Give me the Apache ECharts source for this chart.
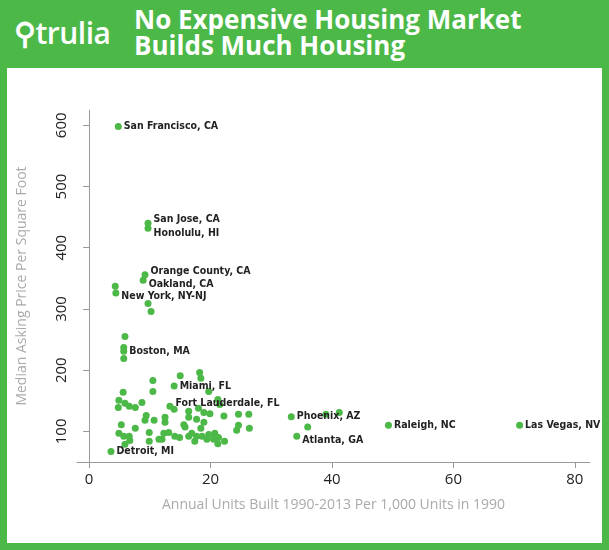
<!DOCTYPE html>
<html><head><meta charset="utf-8">
<script src="https://cdn.jsdelivr.net/npm/echarts@6/dist/echarts.min.js"></script>
<style>
body{margin:0;background:#4cb848;}
#wrap{position:absolute;left:0;top:0;width:609px;height:550px;background:#4cb848;}
#hdr{position:absolute;left:0;top:0;width:609px;height:68px;font-family:"Open Sans";color:#fff;}
#logo{position:absolute;left:14px;top:12px;font-size:30px;font-weight:600;letter-spacing:-0.5px;}
#title{position:absolute;left:134px;top:6px;font-size:26px;font-weight:700;line-height:26px;}
#chart{position:absolute;left:7px;top:68px;width:595px;height:475px;background:#fff;}
</style></head><body>
<div id="wrap">
<div id="hdr"><div id="logo">&#9906;trulia</div><div id="title">No Expensive Housing Market<br>Builds Much Housing</div></div>
<div id="chart"></div></div>
<script>
const xTicks=[0,20,40,60,80];
const yTicks=[100,200,300,400,500,600];
const labeled=[
["San Francisco, CA",4.8,598,0],["San Jose, CA",9.7,440,-4],["Honolulu, HI",9.7,432,5],
["Orange County, CA",9.2,356,-3],["Oakland, CA",8.9,347,4],["New York, NY-NJ",4.4,326,3],
["Boston, MA",5.7,231,0],["Miami, FL",14,174,0],["Fort Lauderdale, FL",13.3,141,-3],
["Phoenix, AZ",33.3,124,0],["Atlanta, GA",34.2,92,4],["Raleigh, NC",49.3,110,0],
["Las Vegas, NV",70.9,110,0],["Detroit, MI",3.6,67,0]];
const others=[[4.3,337],[9.7,309],[10.2,296],[5.9,255],[5.7,237],[5.7,219],[15,191],[18.2,196],[18.4,187],[10.5,183],
[19.7,165],[10.5,165],[5.6,164],[4.9,151],[8.7,147],[5.9,146],[6.6,141],[7.6,139],[4.8,139],[21.2,152],[21.5,144],
[14,136],[16.4,133],[18,138],[18.9,131],[19.9,129],[24.6,128],[9.4,126],[12.5,123],[16.4,123],[17.7,120],[9.2,118],
[10.7,118],[22.2,125],[18.9,115],[15.6,111],[12.5,115],[5.3,111],[24.6,110],[7.6,105],[9.9,98],[15.8,107],[18.4,105],
[26.4,105],[24.3,102],[4.9,97],[5.7,92],[6.6,92],[11.5,87],[12.3,97],[13.1,98],[14.1,92],[14.9,90],[16.4,92],[16.9,97],
[17.7,92],[18.6,92],[19.7,95],[20.7,97],[21.3,90],[20.5,87],[22.3,84],[21.2,80],[19.4,87],[17.4,84],[12,87],[9.9,84],
[6.7,85],[5.9,79],[36,107],[39,128],[41.2,131],[26.3,128]];
const ch=echarts.init(document.getElementById('chart'));
const gray='#999';
ch.setOption({
 grid:{left:68,right:12,top:42,bottom:81},
 xAxis:{type:'value',min:-2,max:82.5,name:'Annual Units Built 1990-2013 Per 1,000 Units in 1990',nameLocation:'middle',nameGap:36,
  nameTextStyle:{color:'#aaa',fontSize:14,fontFamily:'Open Sans'},splitLine:{show:false},
  axisLine:{lineStyle:{color:gray}},axisTick:{customValues:xTicks,length:6,lineStyle:{color:gray}},
  axisLabel:{customValues:xTicks,color:'#222',fontSize:15,fontFamily:'Open Sans',margin:10}},
 yAxis:{type:'value',min:50,max:625,name:'Median Asking Price Per Square Foot',nameLocation:'middle',nameGap:48,
  nameTextStyle:{color:'#aaa',fontSize:14,fontFamily:'Open Sans'},splitLine:{show:false},
  axisLine:{show:true,lineStyle:{color:gray}},axisTick:{show:true,customValues:yTicks,length:6,lineStyle:{color:gray}},
  axisLabel:{customValues:yTicks,color:'#222',fontSize:15,fontFamily:'Open Sans',rotate:90,margin:8,verticalAlign:'bottom',align:'center'}},
 series:[
  {type:'scatter',symbolSize:7,itemStyle:{color:'#4cb848',opacity:1},data:others,silent:true},
  {type:'scatter',symbolSize:7,itemStyle:{color:'#4cb848',opacity:1},
   data:labeled.map(d=>({value:[d[1],d[2]],name:d[0],label:{position:[9,3.5+d[3]]}})),
   label:{show:true,verticalAlign:'middle',align:'left',formatter:'{b}',color:'#222',fontSize:10.5,fontWeight:'bold',fontFamily:'"DejaVu Sans Condensed","Open Sans"'},
   labelLayout:{hideOverlap:false}}
 ]});
</script></body></html>
